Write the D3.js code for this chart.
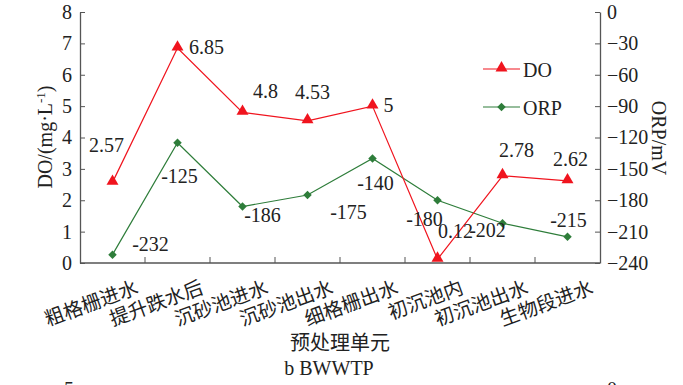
<!DOCTYPE html>
<html>
<head>
<meta charset="utf-8">
<script src="https://cdn.jsdelivr.net/npm/d3@7"></script>
<style>
  body { margin: 0; background: #fff; }
  svg text { font-family: "Liberation Serif", "Times New Roman", serif; fill: #222; }
  .cjk { font-family: "Noto Sans CJK SC", sans-serif; }
</style>
</head>
<body>
<div id="chart"></div>
<script>
// data
const categories = ['粗格栅进水', '提升跌水后', '沉砂池进水', '沉砂池出水', '细格栅出水', '初沉池内', '初沉池出水', '生物段进水']
const doValues = [2.57, 6.85, 4.8, 4.53, 5, 0.12, 2.78, 2.62]
const orpValues = [-232, -125, -186, -175, -140, -180, -202, -215]
const doTicks = [0, 1, 2, 3, 4, 5, 6, 7, 8]
const orpTicks = [0, -30, -60, -90, -120, -150, -180, -210, -240]

// label offsets (px) relative to each point
const doLabelOffsets = [[-6, -30], [29, 6], [23, -14], [5, -22], [16, 6], [18, -21], [14, -19], [3, -15]]
const orpLabelOffsets = [[38, -4], [2, 40], [20, 15], [41, 24], [3, 32], [-13, 26], [-15, 14], [1, -10]]

const width = 683, height = 385
const plot = { left: 80, right: 600, top: 12, bottom: 263 }
const red = '#f0141e', green = '#2e7d3a', axisCol = '#555'

const svg = d3.select('#chart').append('svg')
    .attr('width', width)
    .attr('height', height)

const x = d3.scaleBand().domain(categories).range([plot.left, plot.right])
const cx = d => x(d) + x.bandwidth() / 2
const yL = d3.scaleLinear().domain([0, 8]).range([plot.bottom, plot.top])
const yR = d3.scaleLinear().domain([-240, 0]).range([plot.bottom, plot.top])

// left axis
const axL = svg.append('g')
    .attr('transform', `translate(${plot.left},0)`)
    .call(d3.axisLeft(yL).tickValues(doTicks).tickSizeInner(-5).tickSizeOuter(0).tickPadding(8))
axL.select('.domain').attr('stroke', axisCol).attr('stroke-width', 1.3)
axL.selectAll('.tick line').attr('stroke', axisCol)
axL.selectAll('text').attr('font-size', 20).attr('font-family', 'Liberation Serif')

// right axis
const axR = svg.append('g')
    .attr('transform', `translate(${plot.right},0)`)
    .call(d3.axisRight(yR).tickValues(orpTicks).tickSizeInner(-5).tickSizeOuter(0).tickPadding(7))
axR.select('.domain').attr('stroke', axisCol).attr('stroke-width', 1.3)
axR.selectAll('.tick line').attr('stroke', axisCol)
axR.selectAll('text').attr('font-size', 20).attr('font-family', 'Liberation Serif')

// bottom axis
svg.append('line')
    .attr('x1', plot.left).attr('x2', plot.right)
    .attr('y1', plot.bottom).attr('y2', plot.bottom)
    .attr('stroke', axisCol).attr('stroke-width', 1.3)

svg.selectAll('.xtick')
    .data(categories.slice(1))
    .enter().append('line')
    .attr('class', 'xtick')
    .attr('x1', d => x(d)).attr('x2', d => x(d))
    .attr('y1', plot.bottom).attr('y2', plot.bottom - 6)
    .attr('stroke', axisCol)

svg.selectAll('.xlabel')
    .data(categories)
    .enter().append('text')
    .attr('class', 'xlabel cjk')
    .attr('text-anchor', 'end')
    .attr('font-size', 19.5)
    .attr('transform', d => `translate(${cx(d) + 27},${plot.bottom + 30}) rotate(-20)`)
    .text(d => d)

// axis titles
svg.append('text')
    .attr('class', 'cjk')
    .attr('x', 340).attr('y', 350)
    .attr('text-anchor', 'middle')
    .attr('font-size', 20)
    .text('预处理单元')

svg.append('text')
    .attr('x', 329).attr('y', 375)
    .attr('text-anchor', 'middle')
    .attr('font-size', 20)
    .text('b BWWTP')

const yTitle = svg.append('text')
    .attr('transform', 'translate(52,137) rotate(-90)')
    .attr('text-anchor', 'middle')
    .attr('font-size', 20)
yTitle.append('tspan').text('DO/(mg·L')
yTitle.append('tspan').attr('font-size', 13).attr('dy', -7).text('-1')
yTitle.append('tspan').attr('dy', 7).text(')')

svg.append('text')
    .attr('transform', 'translate(652,138) rotate(90)')
    .attr('text-anchor', 'middle')
    .attr('font-size', 20)
    .text('ORP/mV')

// next panel peeking in at the bottom
svg.append('text').attr('x', 64).attr('y', 396).attr('font-size', 20).text('5')
svg.append('text').attr('x', 607).attr('y', 396).attr('font-size', 20).text('0')

// lines
const lineDO = d3.line().x((d, i) => cx(categories[i])).y(d => yL(d))
const lineORP = d3.line().x((d, i) => cx(categories[i])).y(d => yR(d))

svg.append('path').datum(orpValues)
    .attr('d', lineORP).attr('fill', 'none').attr('stroke', green).attr('stroke-width', 1.2)
svg.append('path').datum(doValues)
    .attr('d', lineDO).attr('fill', 'none').attr('stroke', red).attr('stroke-width', 1.2)

const tri = d3.symbol().type(d3.symbolTriangle).size(62)
const dia = d3.symbol().type(d3.symbolSquare).size(36)

svg.selectAll('.orp-pt')
    .data(orpValues)
    .enter().append('path')
    .attr('class', 'orp-pt')
    .attr('d', dia)
    .attr('fill', green)
    .attr('transform', (d, i) => `translate(${cx(categories[i])},${yR(d)}) rotate(45)`)

svg.selectAll('.do-pt')
    .data(doValues)
    .enter().append('path')
    .attr('class', 'do-pt')
    .attr('d', tri)
    .attr('fill', red)
    .attr('transform', (d, i) => `translate(${cx(categories[i])},${yL(d) - 1})`)

// value labels
svg.selectAll('.orp-lbl')
    .data(orpValues)
    .enter().append('text')
    .attr('class', 'orp-lbl')
    .attr('text-anchor', 'middle')
    .attr('font-size', 20)
    .attr('x', (d, i) => cx(categories[i]) + orpLabelOffsets[i][0])
    .attr('y', (d, i) => yR(d) + orpLabelOffsets[i][1])
    .text(d => d)

svg.selectAll('.do-lbl')
    .data(doValues)
    .enter().append('text')
    .attr('class', 'do-lbl')
    .attr('text-anchor', 'middle')
    .attr('font-size', 20)
    .attr('x', (d, i) => cx(categories[i]) + doLabelOffsets[i][0])
    .attr('y', (d, i) => yL(d) + doLabelOffsets[i][1])
    .text(d => d)

// legend
const legend = [
    { label: 'DO', color: red, sym: tri, rot: 0, y: 69 },
    { label: 'ORP', color: green, sym: dia, rot: 45, y: 107 }
]
const lg = svg.selectAll('.legend')
    .data(legend)
    .enter().append('g')
    .attr('class', 'legend')
    .attr('transform', d => `translate(483,${d.y})`)
lg.append('line').attr('x1', 0).attr('x2', 37)
    .attr('stroke', d => d.color).attr('stroke-width', 1.2)
lg.append('path').attr('d', d => d.sym()).attr('fill', d => d.color)
    .attr('transform', d => `translate(18.5,${d.rot ? 0 : -1}) rotate(${d.rot})`)
lg.append('text').attr('x', 40).attr('y', 7.5).attr('font-size', 20).text(d => d.label)
</script>
</body>
</html>
